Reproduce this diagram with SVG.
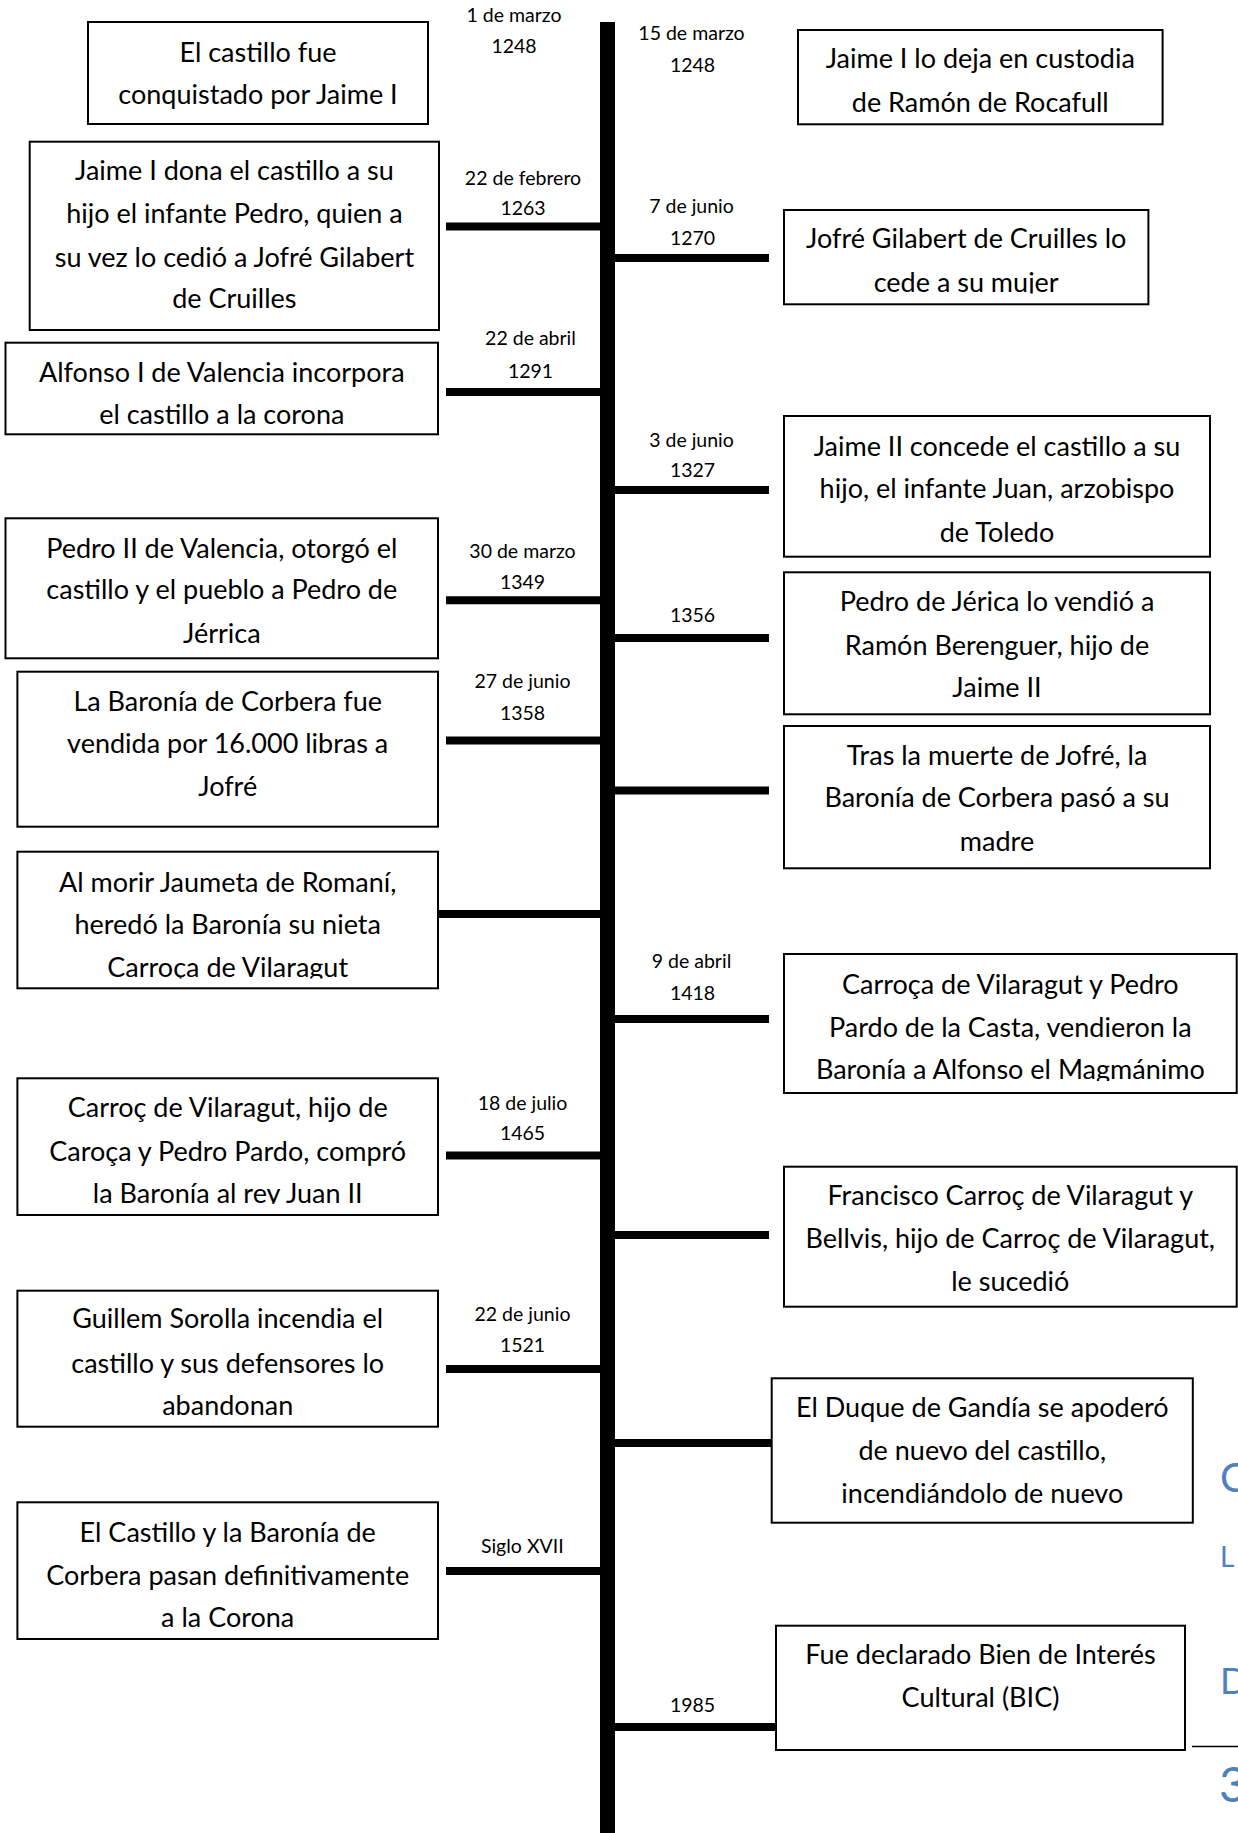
<svg xmlns="http://www.w3.org/2000/svg" width="1238" height="1833" viewBox="0 0 1238 1833">
<style>
.box{fill:#fff;stroke:#000;stroke-width:2}
.t{font-family:Lato,"Open Sans","Liberation Sans",sans-serif;font-size:27px;fill:#000;text-anchor:middle}
.d{font-family:Lato,"Open Sans","Liberation Sans",sans-serif;font-size:19.5px;fill:#000;text-anchor:middle}
.c{stroke:#000;stroke-width:8;fill:none}
.b{font-family:Lato,"Open Sans","Liberation Sans",sans-serif;fill:#4F81BD}
</style>
<defs>
<clipPath id="clipR2" clipPathUnits="userSpaceOnUse"><rect x="784" y="210" width="365" height="83.5"/></clipPath>
<clipPath id="clipL6" clipPathUnits="userSpaceOnUse"><rect x="17" y="851" width="421" height="127.5"/></clipPath>
<clipPath id="clipR6" clipPathUnits="userSpaceOnUse"><rect x="784" y="954" width="453" height="127"/></clipPath>
<clipPath id="clipL7" clipPathUnits="userSpaceOnUse"><rect x="17" y="1078" width="421" height="125.8"/></clipPath>
</defs>
<rect x="0" y="0" width="1238" height="1833" fill="#fff"/>

<g id="connectors">
<rect x="600" y="22" width="15" height="1811" fill="#000"/>
<line class="c" x1="446" y1="226.4" x2="601" y2="226.4"/>
<line class="c" x1="446" y1="392" x2="601" y2="392"/>
<line class="c" x1="446" y1="600.3" x2="601" y2="600.3"/>
<line class="c" x1="446" y1="740.5" x2="601" y2="740.5"/>
<line class="c" x1="438" y1="914" x2="601" y2="914"/>
<line class="c" x1="446" y1="1155.5" x2="601" y2="1155.5"/>
<line class="c" x1="446" y1="1369" x2="601" y2="1369"/>
<line class="c" x1="446" y1="1571" x2="601" y2="1571"/>
<line class="c" x1="614" y1="258" x2="769" y2="258"/>
<line class="c" x1="614" y1="490" x2="769" y2="490"/>
<line class="c" x1="614" y1="638" x2="769" y2="638"/>
<line class="c" x1="614" y1="790.5" x2="769" y2="790.5"/>
<line class="c" x1="614" y1="1019" x2="769" y2="1019"/>
<line class="c" x1="614" y1="1235" x2="769" y2="1235"/>
<line class="c" x1="614" y1="1443" x2="772" y2="1443"/>
<line class="c" x1="614" y1="1727" x2="776" y2="1727"/>
</g>

<g id="n1">
<rect class="box" x="88" y="22" width="340" height="102"/>
<text class="t" x="258" y="61.7">El castillo fue</text>
<text class="t" x="258" y="104">conquistado por Jaime I</text>
<text class="d" x="514" y="21.7">1 de marzo</text>
<text class="d" x="514" y="53.3">1248</text>
</g>
<g id="n2">
<rect class="box" x="798" y="30" width="364.6" height="94.3"/>
<text class="t" x="980.3" y="68.3">Jaime I lo deja en custodia</text>
<text class="t" x="980.3" y="111.7">de Ramón de Rocafull</text>
<text class="d" x="691.5" y="40">15 de marzo</text>
<text class="d" x="692.5" y="71.7">1248</text>
</g>
<g id="n3">
<rect class="box" x="29.7" y="141.7" width="409.3" height="188.3"/>
<text class="t" x="234.4" y="180">Jaime I dona el castillo a su</text>
<text class="t" x="234.4" y="222.7">hijo el infante Pedro, quien a</text>
<text class="t" x="234.4" y="266.7">su vez lo cedió a Jofré Gilabert</text>
<text class="t" x="234.4" y="308.3">de Cruilles</text>
<text class="d" x="523" y="185">22 de febrero</text>
<text class="d" x="523" y="215">1263</text>
</g>
<g id="n4">
<rect class="box" x="784" y="210" width="364.4" height="94.3"/>
<g clip-path="url(#clipR2)">
<text class="t" x="966.2" y="248.3">Jofré Gilabert de Cruilles lo</text>
<text class="t" x="966.2" y="291.7">cede a su mujer</text>
</g>
<text class="d" x="691.5" y="213.3">7 de junio</text>
<text class="d" x="692.5" y="245">1270</text>
</g>
<g id="n5">
<rect class="box" x="5.5" y="342.7" width="432.5" height="91.6"/>
<text class="t" x="221.8" y="381.7">Alfonso I de Valencia incorpora</text>
<text class="t" x="221.8" y="424">el castillo a la corona</text>
<text class="d" x="530.5" y="345">22 de abril</text>
<text class="d" x="530.5" y="377.7">1291</text>
</g>
<g id="n6">
<rect class="box" x="784" y="416" width="426" height="140.7"/>
<text class="t" x="997" y="456">Jaime II concede el castillo a su</text>
<text class="t" x="997" y="497.7">hijo, el infante Juan, arzobispo</text>
<text class="t" x="997" y="541.7">de Toledo</text>
<text class="d" x="691.5" y="446.7">3 de junio</text>
<text class="d" x="692.5" y="476.7">1327</text>
</g>
<g id="n7">
<rect class="box" x="5.5" y="518.3" width="432.5" height="140"/>
<text class="t" x="221.8" y="557.7">Pedro II de Valencia, otorgó el</text>
<text class="t" x="221.8" y="599.3">castillo y el pueblo a Pedro de</text>
<text class="t" x="221.8" y="643.3">Jérrica</text>
<text class="d" x="522.5" y="558.3">30 de marzo</text>
<text class="d" x="522.5" y="589.3">1349</text>
</g>
<g id="n8">
<rect class="box" x="784" y="572.3" width="426" height="142"/>
<text class="t" x="997" y="611">Pedro de Jérica lo vendió a</text>
<text class="t" x="997" y="655">Ramón Berenguer, hijo de</text>
<text class="t" x="997" y="696.7">Jaime II</text>
<text class="d" x="692.5" y="621.7">1356</text>
</g>
<g id="n9">
<rect class="box" x="17.4" y="671.7" width="420.6" height="155"/>
<text class="t" x="227.7" y="711">La Baronía de Corbera fue</text>
<text class="t" x="227.7" y="753.3">vendida por 16.000 libras a</text>
<text class="t" x="227.7" y="796">Jofré</text>
<text class="d" x="522.5" y="688.3">27 de junio</text>
<text class="d" x="522.5" y="720">1358</text>
</g>
<g id="n10">
<rect class="box" x="784" y="726" width="426" height="142.3"/>
<text class="t" x="997" y="765">Tras la muerte de Jofré, la</text>
<text class="t" x="997" y="807.3">Baronía de Corbera pasó a su</text>
<text class="t" x="997" y="850.7">madre</text>
</g>
<g id="n11">
<rect class="box" x="17.4" y="851.7" width="420.6" height="136.6"/>
<g clip-path="url(#clipL6)">
<text class="t" x="227.7" y="891.7">Al morir Jaumeta de Romaní,</text>
<text class="t" x="227.7" y="934">heredó la Baronía su nieta</text>
<text class="t" x="227.7" y="976.7">Carroça de Vilaragut</text>
</g>
</g>
<g id="n12">
<rect class="box" x="784" y="954" width="452.7" height="139"/>
<g clip-path="url(#clipR6)">
<text class="t" x="1010.3" y="994">Carroça de Vilaragut y Pedro</text>
<text class="t" x="1010.3" y="1036.7">Pardo de la Casta, vendieron la</text>
<text class="t" x="1010.3" y="1079.3">Baronía a Alfonso el Magmánimo</text>
</g>
<text class="d" x="691.5" y="968.3">9 de abril</text>
<text class="d" x="692.5" y="1000">1418</text>
</g>
<g id="n13">
<rect class="box" x="17.4" y="1078.3" width="420.6" height="136.7"/>
<g clip-path="url(#clipL7)">
<text class="t" x="227.7" y="1117.3">Carroç de Vilaragut, hijo de</text>
<text class="t" x="227.7" y="1160.7">Caroça y Pedro Pardo, compró</text>
<text class="t" x="227.7" y="1202.7">la Baronía al rey Juan II</text>
</g>
<text class="d" x="522.5" y="1110">18 de julio</text>
<text class="d" x="522.5" y="1140">1465</text>
</g>
<g id="n14">
<rect class="box" x="784" y="1166.7" width="452.7" height="140"/>
<text class="t" x="1010.3" y="1205">Francisco Carroç de Vilaragut y</text>
<text class="t" x="1010.3" y="1248.3">Bellvis, hijo de Carroç de Vilaragut,</text>
<text class="t" x="1010.3" y="1291">le sucedió</text>
</g>
<g id="n15">
<rect class="box" x="17.4" y="1290.7" width="420.6" height="136"/>
<text class="t" x="227.7" y="1328">Guillem Sorolla incendia el</text>
<text class="t" x="227.7" y="1373.3">castillo y sus defensores lo</text>
<text class="t" x="227.7" y="1415">abandonan</text>
<text class="d" x="522.5" y="1321">22 de junio</text>
<text class="d" x="522.5" y="1351.7">1521</text>
</g>
<g id="n16">
<rect class="box" x="771.7" y="1378.3" width="421.1" height="144.4"/>
<text class="t" x="982.3" y="1417.3">El Duque de Gandía se apoderó</text>
<text class="t" x="982.3" y="1460">de nuevo del castillo,</text>
<text class="t" x="982.3" y="1502.7">incendiándolo de nuevo</text>
</g>
<g id="n17">
<rect class="box" x="17.4" y="1502.3" width="420.6" height="136.7"/>
<text class="t" x="227.7" y="1541.7">El Castillo y la Baronía de</text>
<text class="t" x="227.7" y="1585">Corbera pasan definitivamente</text>
<text class="t" x="227.7" y="1626.7">a la Corona</text>
<text class="d" x="522.3" y="1553.3">Siglo XVII</text>
</g>
<g id="n18">
<rect class="box" x="776" y="1625.7" width="409" height="124.3"/>
<text class="t" x="980.5" y="1664">Fue declarado Bien de Interés</text>
<text class="t" x="980.5" y="1707.3">Cultural (BIC)</text>
<text class="d" x="692.5" y="1711.7">1985</text>
</g>

<g id="page-edge">
<line x1="1192" y1="1746.5" x2="1238" y2="1746.5" stroke="#000" stroke-width="1.5"/>
<text class="b" x="1220" y="1492" font-size="40">C</text>
<text class="b" x="1220" y="1567" font-size="28">L</text>
<text class="b" x="1220" y="1694" font-size="36">D</text>
<text class="b" x="1219" y="1802" font-size="48">3</text>
</g>
</svg>
